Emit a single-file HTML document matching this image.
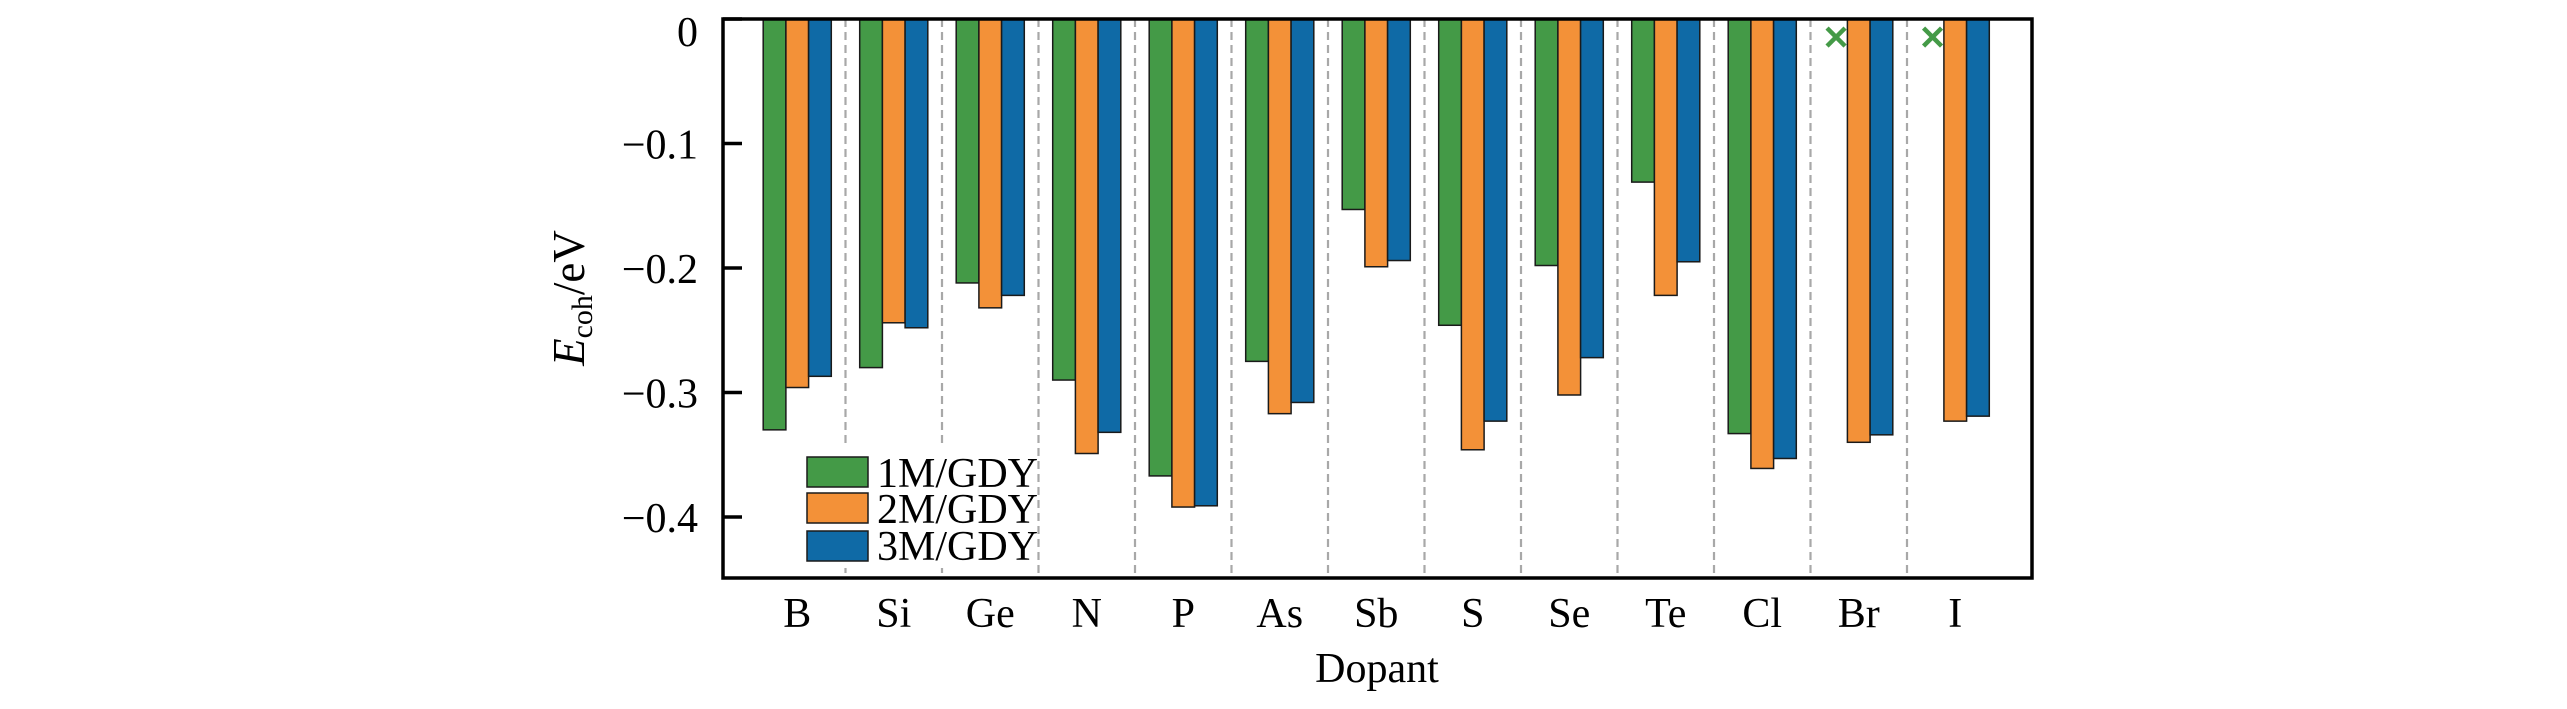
<!DOCTYPE html>
<html><head><meta charset="utf-8"><style>
html,body{margin:0;padding:0;background:#fff;}
svg{display:block;font-family:"Liberation Serif",serif;}
</style></head><body>
<svg id="chart" width="2567" height="709" viewBox="0 0 2567 709" xmlns="http://www.w3.org/2000/svg">
<g id="grid"></g>
<g id="bars"></g>
<g id="legend">
  <rect x="795" y="448" width="236" height="120" fill="#fff"/>
  <rect x="807" y="457" width="61" height="30" fill="#449a47" stroke="#1a1a1a" stroke-width="1.5"/>
  <text x="877" y="487" font-size="42">1M/GDY</text>
  <rect x="807" y="493" width="61" height="30" fill="#f39138" stroke="#1a1a1a" stroke-width="1.5"/>
  <text x="877" y="523" font-size="42">2M/GDY</text>
  <rect x="807" y="531" width="61" height="30" fill="#0f6aa6" stroke="#1a1a1a" stroke-width="1.5"/>
  <text x="877" y="560" font-size="42">3M/GDY</text>
</g>
<g id="axes"></g>
<rect x="723" y="19" width="1309" height="559" fill="none" stroke="#000" stroke-width="3.5"/>
<text x="1377" y="682" font-size="42" text-anchor="middle">Dopant</text>
<text transform="translate(584,298) rotate(-90)" font-size="45" text-anchor="middle"><tspan font-style="italic">E</tspan><tspan font-size="30" dy="8">coh</tspan><tspan dy="-8">/eV</tspan></text>
</svg>
<script>
const categories = ["B","Si","Ge","N","P","As","Sb","S","Se","Te","Cl","Br","I"];
const series1M = [-0.330,-0.280,-0.212,-0.290,-0.367,-0.275,-0.153,-0.246,-0.198,-0.131,-0.333,null,null];
const series2M = [-0.296,-0.244,-0.232,-0.349,-0.392,-0.317,-0.199,-0.346,-0.302,-0.222,-0.361,-0.340,-0.323];
const series3M = [-0.287,-0.248,-0.222,-0.332,-0.391,-0.308,-0.194,-0.323,-0.272,-0.195,-0.353,-0.334,-0.319];
const missingMarkerValue = -0.0145;
const yTicks = [0,-0.1,-0.2,-0.3,-0.4];
const yTickLabels = ["0","\u22120.1","\u22120.2","\u22120.3","\u22120.4"];

const NS="http://www.w3.org/2000/svg";
const x0=749, catW=96.5, barW=22.7;
function yScale(v){return 19 - v*1245;}
function xCenter(i){return x0 + catW*(i+0.5);}
function mk(tag,attrs,parent){const e=document.createElementNS(NS,tag);for(const k in attrs)e.setAttribute(k,attrs[k]);parent.appendChild(e);return e;}

const grid=document.getElementById('grid');
for(let k=1;k<categories.length;k++){
  const l=mk('line',{x1:x0+catW*k,x2:x0+catW*k,y1:19,y2:578,stroke:'#a8a8a8','stroke-width':2.2,'stroke-dasharray':'8,5'},grid);
  
  
}
const bars=document.getElementById('bars');
const seriesList=[[series1M,'#449a47','1m'],[series2M,'#f39138','2m'],[series3M,'#0f6aa6','3m']];
seriesList.forEach(([vals,col,nm],s)=>{
  vals.forEach((v,i)=>{
    const cx=xCenter(i)+(s-1)*barW;
    if(v===null){
      const my=yScale(missingMarkerValue);
      const g=mk('g',{},bars);
      
      
      mk('line',{x1:cx-9,y1:my-9,x2:cx+9,y2:my+9,stroke:col,'stroke-width':4.5},g);
      mk('line',{x1:cx-9,y1:my+9,x2:cx+9,y2:my-9,stroke:col,'stroke-width':4.5},g);
      return;
    }
    const y0=yScale(0), y1=yScale(v);
    const r=mk('rect',{x:cx-barW/2,y:y0,width:barW,height:y1-y0,fill:col,stroke:'#1a1a1a','stroke-width':1.5},bars);
    
    
  });
});
const axes=document.getElementById('axes');
yTicks.forEach((t,i)=>{
  const y=yScale(t);
  const tk=mk('line',{x1:723,x2:742,y1:y,y2:y,stroke:'#000','stroke-width':3.5},axes);
  
  
  const tx=mk('text',{x:698,y:(i===0?46:y+15),'font-size':42,'text-anchor':'end'},axes);
  tx.textContent=yTickLabels[i];
  
  
});
categories.forEach((c,i)=>{
  const tx=mk('text',{x:xCenter(i),y:627,'font-size':42,'text-anchor':'middle'},axes);
  tx.textContent=c;
  
  
});
</script>
</body></html>
